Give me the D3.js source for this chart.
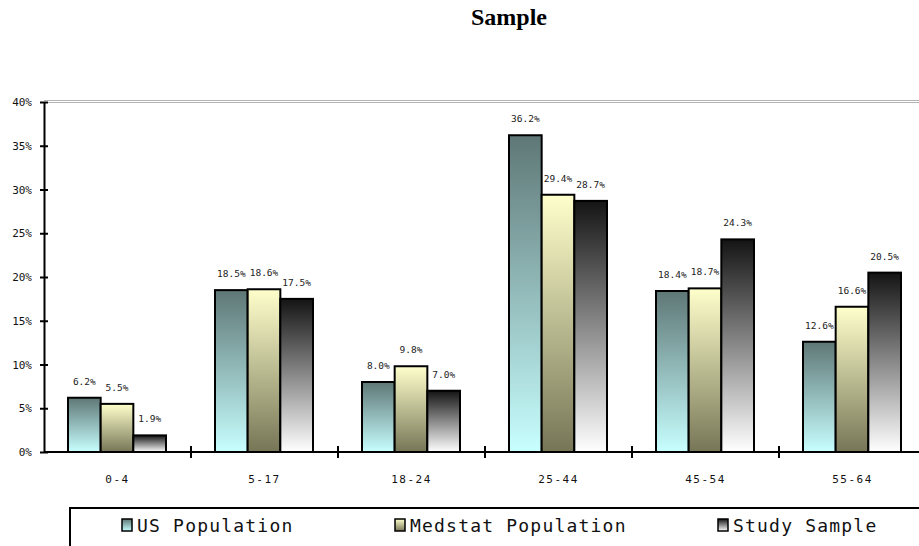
<!DOCTYPE html>
<html>
<head>
<meta charset="utf-8">
<script src="https://cdn.jsdelivr.net/npm/d3@7"></script>
<style>
  body { margin: 0; background: #fff; }
  svg { display: block; }
</style>
</head>
<body>
<div id="app"></div>
<script>
const categories = ["0-4", "5-17", "18-24", "25-44", "45-54", "55-64"]
const series = ["US Population", "Medstat Population", "Study Sample"]
const usPop = [6.2, 18.5, 8.0, 36.2, 18.4, 12.6]
const medstatPop = [5.5, 18.6, 9.8, 29.4, 18.7, 16.6]
const studySample = [1.9, 17.5, 7.0, 28.7, 24.3, 20.5]
const yTicks = [0, 5, 10, 15, 20, 25, 30, 35, 40]

const values = [usPop, medstatPop, studySample]
const rows = categories.map((c, i) => ({
   cat: c,
   vals: series.map((s, j) => ({ key: s, idx: j, v: values[j][i] }))
}))

const width = 919, height = 546
const gradStops = [
   ["#5e7776", "#c8ffff"],
   ["#ffffcc", "#767657"],
   ["#141414", "#ffffff"]
]

const svg = d3.select("#app").append("svg")
   .attr("width", width)
   .attr("height", height)

const defs = svg.append("defs")
gradStops.forEach((g, i) => {
   let lg = defs.append("linearGradient")
      .attr("id", "grad" + i)
      .attr("x1", 0).attr("y1", 0).attr("x2", 0).attr("y2", 1)
   lg.append("stop").attr("offset", "0%").attr("stop-color", g[0])
   lg.append("stop").attr("offset", "100%").attr("stop-color", g[1])
})

// title
svg.append("text")
   .attr("x", 509)
   .attr("y", 25)
   .attr("text-anchor", "middle")
   .attr("font-family", "Liberation Serif, Times New Roman, serif")
   .attr("font-weight", "bold")
   .attr("font-size", "24px")
   .text("Sample")

const x = d3.scaleBand()
   .domain(categories)
   .range([44, 44 + 6 * 147])

const xSub = d3.scaleBand()
   .domain(series)
   .range([24, 24 + 98])

const y = d3.scaleLinear()
   .domain([0, 40])
   .range([452, 102])

// top border (double grey line)
;[-1.5, 0.5].forEach(off => {
   svg.append("line")
      .attr("x1", 44).attr("x2", width)
      .attr("y1", y(40) + off).attr("y2", y(40) + off)
      .attr("stroke", "#b4b4b4").attr("stroke-width", 1)
})

// bars
const groups = svg.append("g")
   .selectAll("g")
   .data(rows)
   .join("g")
   .attr("transform", d => `translate(${x(d.cat)},0)`)

groups.selectAll("rect")
   .data(d => d.vals)
   .join("rect")
   .attr("x", d => xSub(d.key))
   .attr("y", d => y(d.v))
   .attr("width", xSub.bandwidth())
   .attr("height", d => y(0) - y(d.v))
   .attr("fill", d => `url(#grad${d.idx})`)
   .attr("stroke", "#000")
   .attr("stroke-width", 2)

groups.selectAll("text")
   .data(d => d.vals)
   .join("text")
   .attr("x", d => xSub(d.key) + xSub.bandwidth() / 2)
   .attr("y", d => y(d.v) - 13)
   .attr("text-anchor", "middle")
   .attr("font-family", "DejaVu Sans Mono, monospace")
   .attr("font-size", "9.5px")
   .attr("fill", "#222")
   .text(d => d.v.toFixed(1) + "%")

// y axis
const yAxis = svg.append("g")
   .attr("transform", "translate(44,0)")
   .call(d3.axisLeft(y).tickValues(yTicks).tickFormat(d => d + "%").tickSizeInner(4).tickSizeOuter(0).tickPadding(8))
yAxis.select(".domain").attr("stroke", "#000").attr("stroke-width", 2)
yAxis.selectAll(".tick line").attr("x1", -4).attr("x2", 4).attr("stroke-width", 2)
yAxis.selectAll(".tick text")
   .attr("font-family", "DejaVu Sans Mono, monospace")
   .attr("font-size", "11px")
   .attr("fill", "#111")

// x axis
const xAxis = svg.append("g")
   .attr("transform", `translate(0,${y(0)})`)
   .call(d3.axisBottom(x).tickSize(0).tickPadding(23))
xAxis.select(".domain").remove()
svg.append("line")
   .attr("x1", 44).attr("x2", width)
   .attr("y1", y(0)).attr("y2", y(0))
   .attr("stroke", "#000").attr("stroke-width", 2)
xAxis.selectAll(".tick text")
   .attr("font-family", "DejaVu Sans Mono, monospace")
   .attr("font-size", "11px")
   .attr("letter-spacing", "1.5px")
   .attr("fill", "#111")
svg.append("g")
   .selectAll("line")
   .data(categories.slice(1))
   .join("line")
   .attr("x1", d => x(d)).attr("x2", d => x(d))
   .attr("y1", y(0) - 6).attr("y2", y(0) + 6)
   .attr("stroke", "#000").attr("stroke-width", 2)

// legend
const legend = svg.append("g")
legend.append("rect")
   .attr("x", 70).attr("y", 508)
   .attr("width", 900).attr("height", 60)
   .attr("fill", "#fff")
   .attr("stroke", "#000").attr("stroke-width", 2)

const legendX = [122, 395, 718]
const items = legend.selectAll("g")
   .data(series)
   .join("g")
   .attr("transform", (d, i) => `translate(${legendX[i]},519)`)
items.append("rect")
   .attr("width", 10).attr("height", 12)
   .attr("fill", (d, i) => `url(#grad${i})`)
   .attr("stroke", "#000").attr("stroke-width", 1.5)
items.append("text")
   .attr("x", 15)
   .attr("y", 13)
   .attr("font-family", "DejaVu Sans Mono, monospace")
   .attr("font-size", "18px")
   .attr("letter-spacing", "1.2px")
   .attr("fill", "#111")
   .text(d => d)
</script>
</body>
</html>
